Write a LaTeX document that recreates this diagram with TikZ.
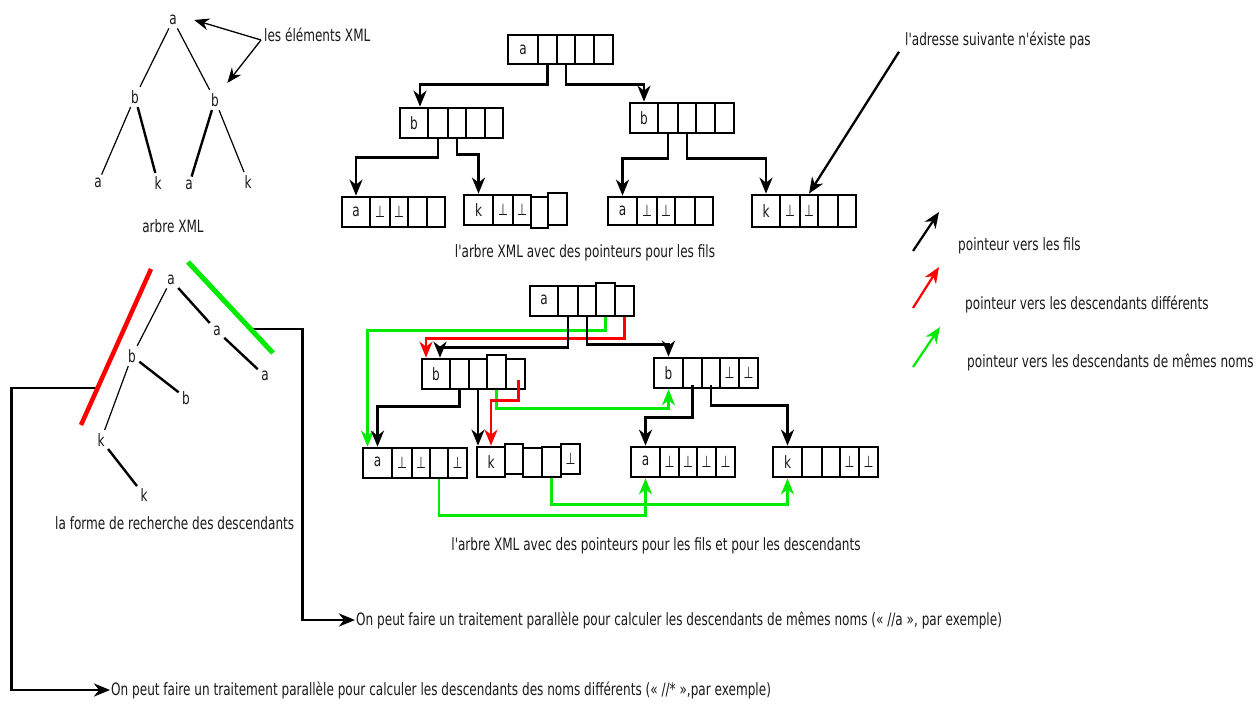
\documentclass[tikz,border=0pt]{standalone}
\usepackage{fontspec}
\newfontfamily\diagfont{DejaVu Sans}[FakeStretch=0.71]
\usetikzlibrary{arrows.meta,calc}

% one cell of a record: name, x0, x1, y0, y1, content
\newcommand\recbox[6]{%
  \pgfmathsetmacro\rbw{#3-#2}\pgfmathsetmacro\rbh{#5-#4}%
  \node[cellbox,minimum width=\rbw pt,minimum height=\rbh pt] (#1) at ({(#2+#3)/2},{(#4+#5)/2}) {#6};}
% a record: prefix, list of x0/x1/y0/y1/content (cells are named prefix1..prefix5)
\newcommand\record[2]{%
  \foreach \xa/\xb/\ya/\yb/\lab [count=\ci] in {#2}{\recbox{#1\ci}{\xa}{\xb}{\ya}{\yb}{\lab}}}
\newcommand\pbot{\raisebox{-2pt}{\fontsize{16}{16}\selectfont ⊥}}
\newcommand\ra{\raisebox{3pt}{a}}

\definecolor{ptrgreen}{RGB}{0,235,0}
\definecolor{ptrred}{RGB}{255,0,0}

\tikzset{
  every node/.style={font=\diagfont\fontsize{17}{20}\selectfont, text=black!90},
  cellbox/.style={draw, line width=2.7pt, inner sep=0pt},
  word/.style={inner sep=1pt},
  head/.style={-{Stealth[length=16pt,width=13pt,inset=5pt]}},
  ptr/.style={line width=2.7pt, head},
  rptr/.style={ptr, draw=ptrred, -{Stealth[length=16pt,width=13pt,inset=5pt,fill=ptrred]}},
  gptr/.style={ptr, draw=ptrgreen, -{Stealth[length=16pt,width=13pt,inset=5pt,fill=ptrgreen]}},
  legptr/.style={line width=2.2pt, head},
  noteptr/.style={line width=1.3pt, -{Stealth[length=15pt,width=12pt,inset=5pt]}},
  thinedge/.style={line width=1.2pt},
  thickedge/.style={line width=2.4pt},
}

\begin{document}
\begin{tikzpicture}[x=1pt,y=-1pt]
\useasboundingbox (0,0) rectangle (1258,704);

% ---------- XML tree ----------
\node (Ta)  at (173,20)  {a};
\node (Tb1) at (135,97)  {b};
\node (Tb2) at (215,100) {b};
\node (Ta1) at (98,183)  {a};
\node (Tk1) at (158,183) {k};
\node (Ta2) at (189,185) {a};
\node (Tk2) at (248,182) {k};
\draw[thinedge]  (Ta) -- (Tb1);
\draw[thinedge]  (Ta) -- (Tb2);
\draw[thinedge]  (Tb1) -- (Ta1);
\draw[thickedge] (Tb1) -- (Tk1);
\draw[thickedge] (Tb2) -- (Ta2);
\draw[thinedge]  (Tb2) -- (Tk2);
\node[word] (xmlcap) at (173,226) {arbre XML};

\node[word,anchor=west] (lex) at (263,35) {les éléments XML};
\draw[noteptr] ($(lex.west)+(-2,5)$) -- ($(Ta.east)+(14,0)$);
\draw[noteptr] ($(lex.west)+(-2,5)$) -- ($(Tb2.north east)+(5,-7)$);

% ---------- records with child pointers ----------
\record{ta}{508/538/35/64/a,538/557/35/64/{},557/575/35/64/{},575/594/35/64/{},594/613/35/64/{}}
\record{tb}{400/428/108/138/b,428/448/108/138/{},448/466/108/138/{},466/485/108/138/{},485/503/108/138/{}}
\record{tc}{630/658/103/133/b,658/678/103/133/{},678/696/103/133/{},696/715/103/133/{},715/734/103/133/{}}
\record{tu}{342/370/197/227/a,370/390/197/227/\pbot,390/408/197/227/\pbot,408/427/197/227/{},427/445/197/227/{}}
\record{tv}{464/493/195/225/k,493/513/195/225/\pbot,513/531/195/225/\pbot,531/548/197/228/{},548/567/193/225/{}}
\record{tw}{608/637/197/225/a,637/657/197/225/\pbot,657/675/197/225/\pbot,675/695/197/225/{},695/713/197/225/{}}
\record{tx}{752/780/195/227/k,780/800/195/227/\pbot,800/818/195/227/\pbot,818/838/195/227/{},838/856/195/227/{}}

\draw[ptr] (ta2.south) -- ++(0,19) -| ([xshift=6pt]tb1.north);
\draw[ptr] (ta3.south) -- ++(0,19) -| (tc1.north);
\draw[ptr] (tb2.south) -- ++(0,18) -| (tu1.north);
\draw[ptr] (tb3.south) -- ++(0,15) -| (tv1.north);
\draw[ptr] (tc2.south) -- ++(0,24) -| (tw1.north);
\draw[ptr] (tc3.south) -- ++(0,24) -| (tx1.north);

\node[word] (cap1) at (585,253) {l'arbre XML avec des pointeurs pour les fils};
\node[word,anchor=west] (adr) at (904,40) {l'adresse suivante n'éxiste pas};
\draw[ptr,line width=2.3pt] ($(adr.south west)+(-5,2)$) -- (tx3.north);

% ---------- legend ----------
\coordinate (l1a) at (913,251); \coordinate (l1b) at (939,212);
\coordinate (l2a) at (913,308); \coordinate (l2b) at (939,267);
\coordinate (l3a) at (913,367); \coordinate (l3b) at (940,327);
\draw[legptr] (l1a) -- (l1b);
\draw[legptr,draw=ptrred,-{Stealth[length=16pt,width=13pt,inset=5pt,fill=ptrred]}] (l2a) -- (l2b);
\draw[legptr,draw=ptrgreen,-{Stealth[length=16pt,width=13pt,inset=5pt,fill=ptrgreen]}] (l3a) -- (l3b);
\node[word,anchor=west] (leg1) at (957,246) {pointeur vers les fils};
\node[word,anchor=west] (leg2) at (964,304) {pointeur vers les descendants différents};
\node[word,anchor=west] (leg3) at (966,362) {pointeur vers les descendants de mêmes noms};

% ---------- records with child and descendant pointers ----------
\record{ba}{530/558/286/316/\ra,558/578/286/316/{},578/596/286/316/{},596/615/283/316/{},615/634/286/316/{}}
\record{bb}{422/450/359/389/b,450/469/359/389/{},469/487/359/389/{},487/506/355/389/{},506/525/359/389/{}}
\record{bc}{654/683/358/388/b,683/702/358/388/{},702/720/358/388/{},720/739/358/388/\pbot,739/758/358/388/\pbot}
\record{bu}{363/392/448/478/\ra,392/412/448/478/\pbot,412/430/448/478/\pbot,430/448/448/478/{},448/467/448/478/\pbot}
\record{bv}{477/505/447/477/k,505/523/444/474/{},523/542/448/477/{},542/561/447/477/{},561/580/444/474/\pbot}
\record{bw}{631/660/447/477/\ra,660/679/447/477/\pbot,679/697/447/477/\pbot,697/716/447/477/\pbot,716/735/447/477/\pbot}
\record{bx}{773/802/447/477/k,802/822/447/477/{},822/840/447/477/{},840/859/447/477/\pbot,859/878/447/477/\pbot}

% descendants with the same name
\draw[gptr] (ba4.south) -- ++(0,13) -| ([xshift=-10pt]bu1.north);
\draw[gptr] (bb4.south) -- ++(0,18) -| (bc1.south);
\draw[gptr] (bu4.south) -- ++(0,36) -| (bw1.south);
\draw[gptr] (bv4.south) -- ++(0,26) -| (bx1.south);
% descendants with a different name
\draw[rptr] (ba5.south) -- ++(0,21) -| ([xshift=-10pt]bb1.north);
\draw[rptr] ($(bb5.south)+(3,-10)$) -- ++(0,20) -| (bv1.north);
% children
\draw[ptr] (ba2.south) -- ++(0,30) -| ([xshift=4pt]bb1.north);
\draw[ptr] (ba3.south) -- ++(0,27) -| (bc1.north);
\draw[ptr] (bb2.south) -- ++(0,16) -| (bu1.north);
\draw[ptr] (bb3.south) -- (bb3.south |- bv1.north);
\draw[ptr] ($(bc2.south)+(0,-4)$) -- ++(0,32) -| (bw1.north);
\draw[ptr] ($(bc3.south)+(0,-4)$) -- ++(0,20) -| (bx1.north);

\node[word] (cap2) at (656,546) {l'arbre XML avec des pointeurs pour les fils et pour les descendants};

% ---------- search shape of the descendants ----------
\node (Sa)  at (171,280) {a};
\node (Sb)  at (132,356) {b};
\node (Sa2) at (217,331) {a};
\node (Sa3) at (265,376) {a};
\node (Sb2) at (186,398) {b};
\node (Sk)  at (101,440) {k};
\node (Sk2) at (144,495) {k};
\draw[thinedge]  (Sa) -- (Sb);
\draw[thickedge] (Sa) -- (Sa2);
\draw[thickedge] (Sa2) -- (Sa3);
\draw[thickedge] (Sb) -- (Sb2);
\draw[thinedge]  (Sb) -- (Sk);
\draw[thickedge] (Sk) -- (Sk2);
\node[word,anchor=west] (desc) at (54,523) {la forme de recherche des descendants};

\coordinate (r1) at (151,269); \coordinate (r2) at (81,425);
\coordinate (g1) at (188,262); \coordinate (g2) at (273,353);
\coordinate (rm) at ($(r1)!0.763!(r2)$);
\coordinate (gm) at ($(g1)!0.736!(g2)$);

\node[word,anchor=west] (txt1) at (355,620) {On peut faire un traitement parallèle pour calculer les descendants de mêmes noms (« //a », par exemple)};
\node[word,anchor=west] (txt2) at (110,690) {On peut faire un traitement parallèle pour calculer les descendants des noms différents (« //* »,par exemple)};
\draw[ptr] (gm) -- ++(52,0) |- (txt1.west);
\draw[ptr] (rm) -- ++(-86,0) |- (txt2.west);

\draw[line width=4.5pt, ptrred] (r1) -- (r2);
\draw[line width=5pt, ptrgreen] (g1) -- (g2);
\end{tikzpicture}
\end{document}
